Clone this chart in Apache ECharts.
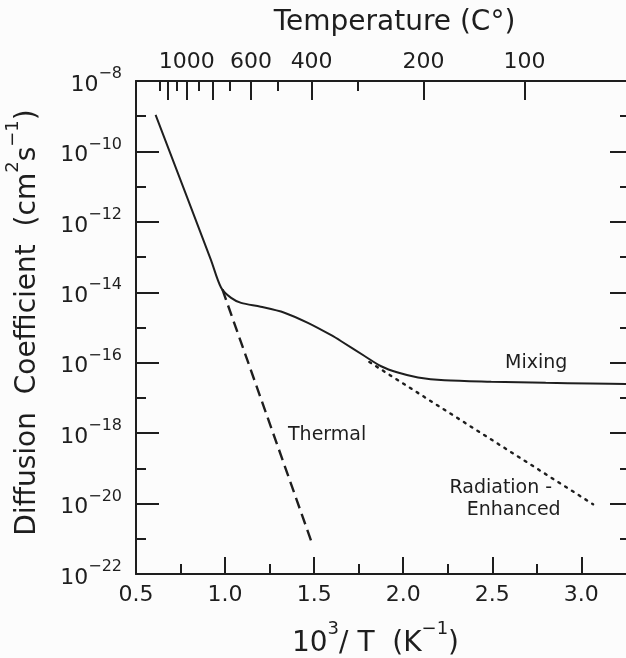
<!DOCTYPE html>
<html><head><meta charset="utf-8">
<script src="https://cdn.jsdelivr.net/npm/echarts@6/dist/echarts.min.js"></script>
<style>html,body{margin:0;padding:0;background:#fcfcfc}#c{width:626px;height:658px}</style>
</head><body><div id="c"></div>
<script>
// ---- data (x = 10^3/T in K^-1, y = log10 of diffusion coefficient in cm^2 s^-1) ----
const mixingX    = [0.61, 0.92, 0.978, 1.034, 1.09, 1.20, 1.333, 1.465, 1.596, 1.652, 1.783, 1.876, 1.97, 2.083, 2.232, 2.494, 2.8, 3.05, 3.3];
const mixingLogD = [-8.96, -13.07, -13.87, -14.16, -14.30, -14.41, -14.58, -14.87, -15.22, -15.39, -15.81, -16.10, -16.28, -16.42, -16.50, -16.54, -16.57, -16.59, -16.61];
const thermalX    = [0.985, 1.493];
const thermalLogD = [-13.92, -21.2];
const radX    = [1.81, 3.066];
const radLogD = [-15.98, -20.02];

const bottomMajor = [0.5, 1.0, 1.5, 2.0, 2.5, 3.0];
const bottomMinor = [0.75, 1.25, 1.75, 2.25, 2.75];
const tempMajorC  = [1200, 1000, 800, 600, 400, 200, 100];
const tempMinorC  = [1300, 1100, 900, 700, 500, 300];
const tempLabelC  = [1000, 600, 400, 200, 100];

const annotText = ['Mixing', 'Thermal', 'Radiation -', 'Enhanced'];
const annotX    = [2.747, 1.573, 2.548, 2.62];
const annotLogD = [-16.02, -18.05, -19.555, -20.18];

const X_MIN = 0.5, X_MAX = 3.29, Y_MIN = -22, Y_MAX = -8;
const FONT = 'DejaVu Sans';
const INK = '#1e1e1e';

const zip = (a, b) => a.map((v, i) => [v, b[i]]);
const toInvT = c => 1000 / (c + 273);

const lineW = 2;
const baseX = {
  type: 'value', min: X_MIN, max: X_MAX,
  splitLine: {show: false},
  axisLine: {show: false, onZero: false, lineStyle: {color: INK, width: lineW}},
  axisTick: {show: true, inside: true, lineStyle: {color: INK, width: lineW}},
  axisLabel: {show: false}
};
const baseY = {
  type: 'value', min: Y_MIN, max: Y_MAX, interval: 2,
  splitLine: {show: false},
  axisLine: {show: true, onZero: false, lineStyle: {color: INK, width: lineW}},
  axisTick: {show: true, inside: true, length: 23, lineStyle: {color: INK, width: lineW}},
  minorTick: {show: true, splitNumber: 2, length: 10, lineStyle: {color: INK, width: lineW}},
  axisLabel: {show: false}
};

const supRich = {
  a: {fontFamily: FONT, fontSize: 28, color: INK, lineHeight: 38, verticalAlign: 'bottom'},
  s: {fontFamily: FONT, fontSize: 18, color: INK, lineHeight: 19, verticalAlign: 'top'}
};

const option = {
  animation: false,
  backgroundColor: '#fcfcfc',
  grid: {left: 136, right: -7, top: 81, bottom: 84, outerBoundsMode: 'none', containLabel: false},
  xAxis: [
    Object.assign({}, baseX, {
      position: 'bottom',
      axisLine: {show: true, onZero: false, lineStyle: {color: INK, width: lineW}},
      axisTick: {show: true, inside: true, length: 17, customValues: bottomMajor, lineStyle: {color: INK, width: lineW}},
      axisLabel: {show: true, customValues: bottomMajor, formatter: v => v.toFixed(1),
        fontFamily: FONT, fontSize: 22, color: INK, margin: 10},
      name: '{a|10}{s|3}{a|/ T  (K}{s|−1}{a|)}',
      nameLocation: 'middle', nameGap: 46,
      nameTextStyle: {rich: supRich, padding: [0, 18, 0, 0]}
    }),
    Object.assign({}, baseX, {
      position: 'bottom',
      axisTick: {show: true, inside: true, length: 10, customValues: bottomMinor, lineStyle: {color: INK, width: lineW}}
    }),
    Object.assign({}, baseX, {
      position: 'top',
      axisLine: {show: true, onZero: false, lineStyle: {color: INK, width: lineW}},
      axisTick: {show: true, inside: true, length: 19, customValues: tempMajorC.map(toInvT), lineStyle: {color: INK, width: lineW}},
      axisLabel: {show: true, customValues: tempLabelC.map(toInvT),
        formatter: v => String(Math.round(1000 / v - 273)),
        fontFamily: FONT, fontSize: 22, color: INK, margin: 8},
      name: 'Temperature (C°)',
      nameLocation: 'middle', nameGap: 44,
      nameTextStyle: {fontFamily: FONT, fontSize: 28, color: INK, padding: [0, 0, 0, 20]}
    }),
    Object.assign({}, baseX, {
      position: 'top',
      axisTick: {show: true, inside: true, length: 10, customValues: tempMinorC.map(toInvT), lineStyle: {color: INK, width: lineW}}
    })
  ],
  yAxis: [
    Object.assign({}, baseY, {
      position: 'left',
      axisLabel: {show: true, margin: 14,
        formatter: v => '{b|10}{s|−' + Math.abs(v) + '}',
        rich: {
          b: {fontFamily: FONT, fontSize: 22, color: INK, lineHeight: 30, verticalAlign: 'bottom'},
          s: {fontFamily: FONT, fontSize: 16, color: INK, lineHeight: 16, verticalAlign: 'top'}
        }},
      name: '{a|Diffusion  Coefficient  (cm}{s|2}{a|s}{s|−1}{a|)}',
      nameLocation: 'middle', nameGap: 94,
      nameTextStyle: {rich: supRich, padding: [0, 0, 0, 10]}
    }),
    Object.assign({}, baseY, {
      position: 'right',
      axisLine: {show: false, onZero: false},
      minorTick: {show: true, splitNumber: 2, length: 13, lineStyle: {color: INK, width: lineW}}
    })
  ],
  series: [
    {name: 'Mixing', type: 'line', xAxisIndex: 0, yAxisIndex: 0,
     data: zip(mixingX, mixingLogD), showSymbol: false, smooth: 0.3,
     lineStyle: {color: INK, width: 2}, silent: true},
    {name: 'Thermal', type: 'line', xAxisIndex: 0, yAxisIndex: 0,
     data: zip(thermalX, thermalLogD), showSymbol: false,
     lineStyle: {color: INK, width: 2.4, type: [11, 6]}, silent: true},
    {name: 'Radiation-Enhanced', type: 'line', xAxisIndex: 0, yAxisIndex: 0,
     data: zip(radX, radLogD), showSymbol: false,
     lineStyle: {color: INK, width: 2.4, type: [2, 6], cap: 'round'}, silent: true},
    {name: 'annotations', type: 'scatter', xAxisIndex: 0, yAxisIndex: 0,
     data: annotText.map((t, i) => ({value: [annotX[i], annotLogD[i]], name: t})),
     symbolSize: 0, itemStyle: {color: INK, opacity: 1}, silent: true,
     label: {show: true, position: 'inside', formatter: p => p.name,
       fontFamily: FONT, fontSize: 19, color: INK, opacity: 1, textBorderWidth: 0}}
  ]
};
const chart = echarts.init(document.getElementById('c'), null, {renderer: 'canvas'});
chart.setOption(option);
</script>
</body></html>
